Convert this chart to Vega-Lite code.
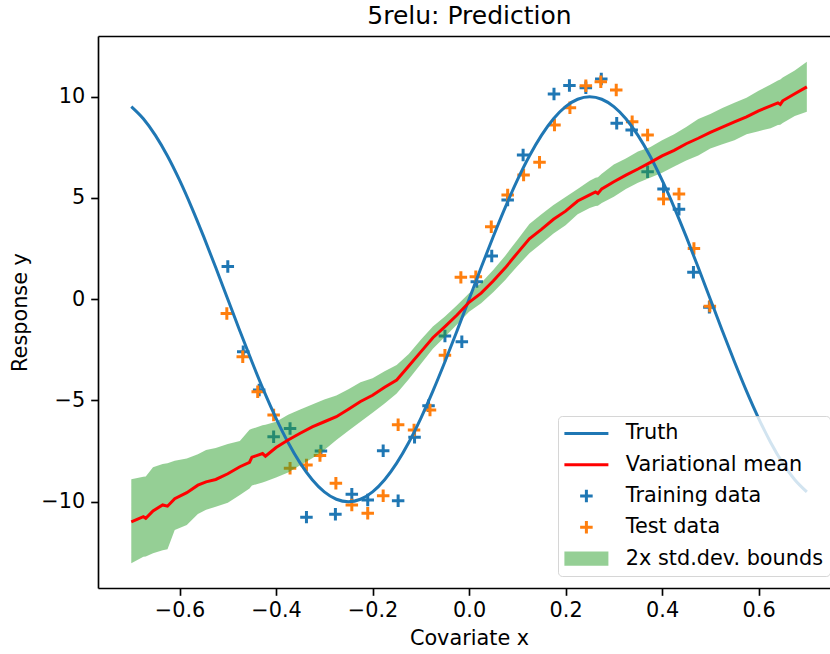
{
  "$schema": "https://vega.github.io/schema/vega-lite/v6.json",
  "width": 732,
  "height": 552,
  "autosize": {"type": "none"},
  "padding": {"left": 98, "top": 36, "right": 0, "bottom": 66},
  "background": "white",
  "datasets": {
    "truth": [
      {"x": -0.7, "y": 9.511}, {"x": -0.675, "y": 8.91}, {"x": -0.65, "y": 8.09}, {"x": -0.625, "y": 7.071},
      {"x": -0.6, "y": 5.878}, {"x": -0.575, "y": 4.54}, {"x": -0.55, "y": 3.09}, {"x": -0.525, "y": 1.564},
      {"x": -0.5, "y": 0}, {"x": -0.475, "y": -1.564}, {"x": -0.45, "y": -3.09}, {"x": -0.425, "y": -4.54},
      {"x": -0.4, "y": -5.878}, {"x": -0.375, "y": -7.071}, {"x": -0.35, "y": -8.09}, {"x": -0.325, "y": -8.91},
      {"x": -0.3, "y": -9.511}, {"x": -0.275, "y": -9.877}, {"x": -0.25, "y": -10}, {"x": -0.225, "y": -9.877},
      {"x": -0.2, "y": -9.511}, {"x": -0.175, "y": -8.91}, {"x": -0.15, "y": -8.09}, {"x": -0.125, "y": -7.071},
      {"x": -0.1, "y": -5.878}, {"x": -0.075, "y": -4.54}, {"x": -0.05, "y": -3.09}, {"x": -0.025, "y": -1.564},
      {"x": 0, "y": 0}, {"x": 0.025, "y": 1.564}, {"x": 0.05, "y": 3.09}, {"x": 0.075, "y": 4.54},
      {"x": 0.1, "y": 5.878}, {"x": 0.125, "y": 7.071}, {"x": 0.15, "y": 8.09}, {"x": 0.175, "y": 8.91},
      {"x": 0.2, "y": 9.511}, {"x": 0.225, "y": 9.877}, {"x": 0.25, "y": 10}, {"x": 0.275, "y": 9.877},
      {"x": 0.3, "y": 9.511}, {"x": 0.325, "y": 8.91}, {"x": 0.35, "y": 8.09}, {"x": 0.375, "y": 7.071},
      {"x": 0.4, "y": 5.878}, {"x": 0.425, "y": 4.54}, {"x": 0.45, "y": 3.09}, {"x": 0.475, "y": 1.564},
      {"x": 0.5, "y": 0}, {"x": 0.525, "y": -1.564}, {"x": 0.55, "y": -3.09}, {"x": 0.575, "y": -4.54},
      {"x": 0.6, "y": -5.878}, {"x": 0.625, "y": -7.071}, {"x": 0.65, "y": -8.09}, {"x": 0.675, "y": -8.91},
      {"x": 0.7, "y": -9.511}
    ],
    "training": [
      {"x": -0.5, "y": 1.62}, {"x": -0.468, "y": -2.59}, {"x": -0.435, "y": -4.48}, {"x": -0.405, "y": -6.79},
      {"x": -0.371, "y": -6.38}, {"x": -0.337, "y": -10.76}, {"x": -0.307, "y": -7.5}, {"x": -0.277, "y": -10.62},
      {"x": -0.243, "y": -9.63}, {"x": -0.21, "y": -9.92}, {"x": -0.178, "y": -7.48}, {"x": -0.147, "y": -9.95},
      {"x": -0.113, "y": -6.82}, {"x": -0.084, "y": -5.26}, {"x": -0.05, "y": -1.82}, {"x": -0.015, "y": -2.1},
      {"x": 0.016, "y": 0.87}, {"x": 0.047, "y": 2.13}, {"x": 0.08, "y": 4.9}, {"x": 0.112, "y": 7.12},
      {"x": 0.176, "y": 10.13}, {"x": 0.208, "y": 10.56}, {"x": 0.242, "y": 10.45}, {"x": 0.274, "y": 10.88},
      {"x": 0.306, "y": 8.69}, {"x": 0.337, "y": 8.36}, {"x": 0.37, "y": 6.3}, {"x": 0.403, "y": 5.44},
      {"x": 0.435, "y": 4.45}, {"x": 0.465, "y": 1.33}, {"x": 0.498, "y": -0.4}
    ],
    "test": [
      {"x": -0.502, "y": -0.7}, {"x": -0.469, "y": -2.84}, {"x": -0.438, "y": -4.57}, {"x": -0.405, "y": -5.72},
      {"x": -0.371, "y": -8.35}, {"x": -0.337, "y": -8.19}, {"x": -0.309, "y": -7.72}, {"x": -0.276, "y": -9.09},
      {"x": -0.243, "y": -10.16}, {"x": -0.21, "y": -10.57}, {"x": -0.178, "y": -9.7}, {"x": -0.147, "y": -6.2},
      {"x": -0.114, "y": -6.46}, {"x": -0.081, "y": -5.47}, {"x": -0.05, "y": -2.76}, {"x": -0.017, "y": 1.08},
      {"x": 0.014, "y": 1.11}, {"x": 0.046, "y": 3.58}, {"x": 0.08, "y": 5.15}, {"x": 0.113, "y": 6.13},
      {"x": 0.146, "y": 6.77}, {"x": 0.177, "y": 8.6}, {"x": 0.209, "y": 9.46}, {"x": 0.242, "y": 10.54},
      {"x": 0.273, "y": 10.74}, {"x": 0.305, "y": 10.33}, {"x": 0.338, "y": 8.77}, {"x": 0.37, "y": 8.11},
      {"x": 0.403, "y": 4.95}, {"x": 0.435, "y": 5.2}, {"x": 0.466, "y": 2.51}, {"x": 0.499, "y": -0.34}
    ],
    "posterior": [
      {"x": -0.7, "mean": -10.99, "lo": -13.04, "hi": -8.89},
      {"x": -0.675, "mean": -10.74, "lo": -12.72, "hi": -8.77},
      {"x": -0.67, "mean": -10.82, "lo": -12.7, "hi": -8.75},
      {"x": -0.655, "mean": -10.45, "lo": -12.55, "hi": -8.3},
      {"x": -0.635, "mean": -10.16, "lo": -12.39, "hi": -8.14},
      {"x": -0.625, "mean": -10.22, "lo": -12.35, "hi": -8.1},
      {"x": -0.61, "mean": -9.85, "lo": -11.4, "hi": -7.98},
      {"x": -0.585, "mean": -9.55, "lo": -11.15, "hi": -7.86},
      {"x": -0.562, "mean": -9.18, "lo": -10.6, "hi": -7.65},
      {"x": -0.545, "mean": -9.02, "lo": -10.4, "hi": -7.45},
      {"x": -0.525, "mean": -8.9, "lo": -10.25, "hi": -7.35},
      {"x": -0.5, "mean": -8.62, "lo": -10.05, "hi": -7.15},
      {"x": -0.475, "mean": -8.27, "lo": -9.67, "hi": -7.0},
      {"x": -0.455, "mean": -8.05, "lo": -9.35, "hi": -6.45},
      {"x": -0.45, "mean": -7.8, "lo": -9.2, "hi": -6.4},
      {"x": -0.428, "mean": -7.62, "lo": -9.05, "hi": -6.22},
      {"x": -0.422, "mean": -7.75, "lo": -9.0, "hi": -6.2},
      {"x": -0.4, "mean": -7.32, "lo": -8.8, "hi": -6.05},
      {"x": -0.375, "mean": -6.95, "lo": -8.55, "hi": -5.7},
      {"x": -0.35, "mean": -6.62, "lo": -8.2, "hi": -5.45},
      {"x": -0.325, "mean": -6.3, "lo": -7.85, "hi": -5.2},
      {"x": -0.3, "mean": -6.05, "lo": -7.45, "hi": -4.95},
      {"x": -0.275, "mean": -5.8, "lo": -6.95, "hi": -4.75},
      {"x": -0.25, "mean": -5.43, "lo": -6.5, "hi": -4.45},
      {"x": -0.225, "mean": -5.05, "lo": -6.05, "hi": -4.1},
      {"x": -0.2, "mean": -4.74, "lo": -5.6, "hi": -3.9},
      {"x": -0.175, "mean": -4.35, "lo": -5.15, "hi": -3.55},
      {"x": -0.15, "mean": -3.99, "lo": -4.65, "hi": -3.25},
      {"x": -0.125, "mean": -3.3, "lo": -3.95, "hi": -2.7},
      {"x": -0.1, "mean": -2.6, "lo": -3.2, "hi": -2.0},
      {"x": -0.075, "mean": -1.9, "lo": -2.45, "hi": -1.35},
      {"x": -0.05, "mean": -1.35, "lo": -1.85, "hi": -0.85},
      {"x": -0.025, "mean": -0.78, "lo": -1.25, "hi": -0.3},
      {"x": 0.0, "mean": -0.15, "lo": -0.62, "hi": 0.29},
      {"x": 0.025, "mean": 0.3, "lo": -0.2, "hi": 0.8},
      {"x": 0.05, "mean": 0.9, "lo": 0.35, "hi": 1.45},
      {"x": 0.075, "mean": 1.55, "lo": 0.95, "hi": 2.15},
      {"x": 0.1, "mean": 2.28, "lo": 1.63, "hi": 2.93},
      {"x": 0.125, "mean": 2.98, "lo": 2.27, "hi": 3.72},
      {"x": 0.15, "mean": 3.45, "lo": 2.75, "hi": 4.2},
      {"x": 0.175, "mean": 3.95, "lo": 3.25, "hi": 4.65},
      {"x": 0.2, "mean": 4.35, "lo": 3.65, "hi": 5.05},
      {"x": 0.225, "mean": 4.85, "lo": 4.2, "hi": 5.45},
      {"x": 0.25, "mean": 5.15, "lo": 4.5, "hi": 5.85},
      {"x": 0.262, "mean": 5.3, "lo": 4.6, "hi": 6.0},
      {"x": 0.267, "mean": 5.22, "lo": 4.62, "hi": 6.02},
      {"x": 0.275, "mean": 5.45, "lo": 4.75, "hi": 6.2},
      {"x": 0.3, "mean": 5.8, "lo": 5.06, "hi": 6.65},
      {"x": 0.325, "mean": 6.13, "lo": 5.45, "hi": 6.95},
      {"x": 0.35, "mean": 6.43, "lo": 5.75, "hi": 7.3},
      {"x": 0.375, "mean": 6.75, "lo": 6.0, "hi": 7.5},
      {"x": 0.4, "mean": 7.08, "lo": 6.25, "hi": 7.85},
      {"x": 0.425, "mean": 7.35, "lo": 6.55, "hi": 8.15},
      {"x": 0.45, "mean": 7.68, "lo": 6.85, "hi": 8.5},
      {"x": 0.475, "mean": 7.95, "lo": 7.1, "hi": 8.9},
      {"x": 0.5, "mean": 8.24, "lo": 7.45, "hi": 9.15},
      {"x": 0.525, "mean": 8.5, "lo": 7.65, "hi": 9.45},
      {"x": 0.55, "mean": 8.76, "lo": 7.85, "hi": 9.7},
      {"x": 0.575, "mean": 9.01, "lo": 8.15, "hi": 9.95},
      {"x": 0.6, "mean": 9.3, "lo": 8.3, "hi": 10.3},
      {"x": 0.625, "mean": 9.55, "lo": 8.45, "hi": 10.6},
      {"x": 0.64, "mean": 9.7, "lo": 8.6, "hi": 10.8},
      {"x": 0.645, "mean": 9.62, "lo": 8.62, "hi": 10.85},
      {"x": 0.65, "mean": 9.8, "lo": 8.7, "hi": 10.95},
      {"x": 0.675, "mean": 10.15, "lo": 9.05, "hi": 11.3},
      {"x": 0.7, "mean": 10.49, "lo": 9.26, "hi": 11.73}
    ]
  },
  "resolve": {"axis": {"x": "independent"}},
  "layer": [
    {
      "data": {"name": "training"},
      "mark": {"type": "point", "shape": "M-1,0L1,0M0,-1L0,1", "filled": false, "size": 156, "strokeWidth": 3, "opacity": 1},
      "encoding": {
        "x": {
          "field": "x", "type": "quantitative",
          "scale": {"domain": [-0.769, 0.748], "nice": false, "zero": false},
          "axis": {
            "values": [-0.6, -0.4, -0.2, 0, 0.2, 0.4, 0.6],
            "labelExpr": "replace(format(datum.value, '.1f'), '-', '−')",
            "title": "Covariate x",
            "titleX": 371,
            "labelPadding": 5,
            "titlePadding": 8
          }
        },
        "y": {
          "field": "y", "type": "quantitative",
          "scale": {"domain": [-14.26, 13.0], "nice": false, "zero": false},
          "axis": {
            "values": [-10, -5, 0, 5, 10],
            "labelExpr": "replace(format(datum.value, 'd'), '-', '−')",
            "title": "Response y",
            "labelPadding": 6,
            "titlePadding": 10
          }
        },
        "color": {
          "datum": "Training data", "type": "nominal",
          "scale": {
            "domain": ["Truth", "Variational mean", "Training data", "Test data", "2x std.dev. bounds"],
            "range": ["#1f77b4", "#ff0000", "#1f77b4", "#ff7f0e", "#2ca02c"]
          },
          "legend": {
            "title": null,
            "orient": "none",
            "legendX": 460,
            "legendY": 380,
            "fillColor": "rgba(255,255,255,0.8)",
            "strokeColor": "rgba(204,204,204,0.8)",
            "cornerRadius": 4,
            "padding": 7,
            "labelFont": "DejaVu Sans",
            "labelFontSize": 20.8,
            "labelColor": "black",
            "labelLimit": 400,
            "symbolSize": 484,
            "gridAlign": "all",
            "rowPadding": 6.3,
            "labelOffset": 40,
            "symbolType": {"expr": "datum.value === 'Truth' || datum.value === 'Variational mean' ? 'M-1,0L3,0' : datum.value === '2x std.dev. bounds' ? 'M-1,-0.64L3,-0.64L3,0.64L-1,0.64Z' : 'M0.43,0L1.57,0M1,-0.57L1,0.57'"},
            "symbolStrokeWidth": {"expr": "datum.value === '2x std.dev. bounds' ? 0 : 3"},
            "symbolOpacity": {"expr": "datum.value === '2x std.dev. bounds' ? 0.5 : 1"}
          }
        }
      }
    },
    {
      "data": {"name": "test"},
      "mark": {"type": "point", "shape": "M-1,0L1,0M0,-1L0,1", "filled": false, "size": 156, "strokeWidth": 3, "opacity": 1},
      "encoding": {
        "x": {"field": "x", "type": "quantitative", "axis": null},
        "y": {"field": "y", "type": "quantitative"},
        "color": {"datum": "Test data", "type": "nominal"}
      }
    },
    {
      "data": {"name": "posterior"},
      "mark": {"type": "area", "opacity": 0.5},
      "encoding": {
        "x": {
          "field": "x", "type": "quantitative",
          "axis": {
            "orient": "top", "labels": false, "ticks": false, "domain": true,
            "title": "5relu: Prediction",
            "titleFontSize": 25,
            "titleX": 371,
            "titleY": -12.5,
            "titleAlign": "center",
            "titleBaseline": "alphabetic",
            "titleAngle": 0
          }
        },
        "y": {"field": "lo", "type": "quantitative"},
        "y2": {"field": "hi"},
        "color": {"datum": "2x std.dev. bounds", "type": "nominal"}
      }
    },
    {
      "data": {"name": "truth"},
      "mark": {"type": "line", "strokeWidth": 3, "interpolate": "monotone"},
      "encoding": {
        "x": {"field": "x", "type": "quantitative", "axis": null},
        "y": {"field": "y", "type": "quantitative"},
        "color": {"datum": "Truth", "type": "nominal"}
      }
    },
    {
      "data": {"name": "posterior"},
      "mark": {"type": "line", "strokeWidth": 3},
      "encoding": {
        "x": {"field": "x", "type": "quantitative", "axis": null},
        "y": {"field": "mean", "type": "quantitative"},
        "color": {"datum": "Variational mean", "type": "nominal"}
      }
    }
  ],
  "config": {
    "font": "DejaVu Sans",
    "view": {"stroke": null},
    "axis": {
      "grid": false,
      "domainColor": "black",
      "domainWidth": 1.67,
      "tickColor": "black",
      "tickWidth": 1.67,
      "tickSize": 7.3,
      "labelFont": "DejaVu Sans",
      "labelFontSize": 20.8,
      "labelColor": "black",
      "titleFont": "DejaVu Sans",
      "titleFontSize": 20.8,
      "titleFontWeight": "normal",
      "titleColor": "black",
      "labelFlush": false,
      "labelOverlap": false
    }
  }
}
